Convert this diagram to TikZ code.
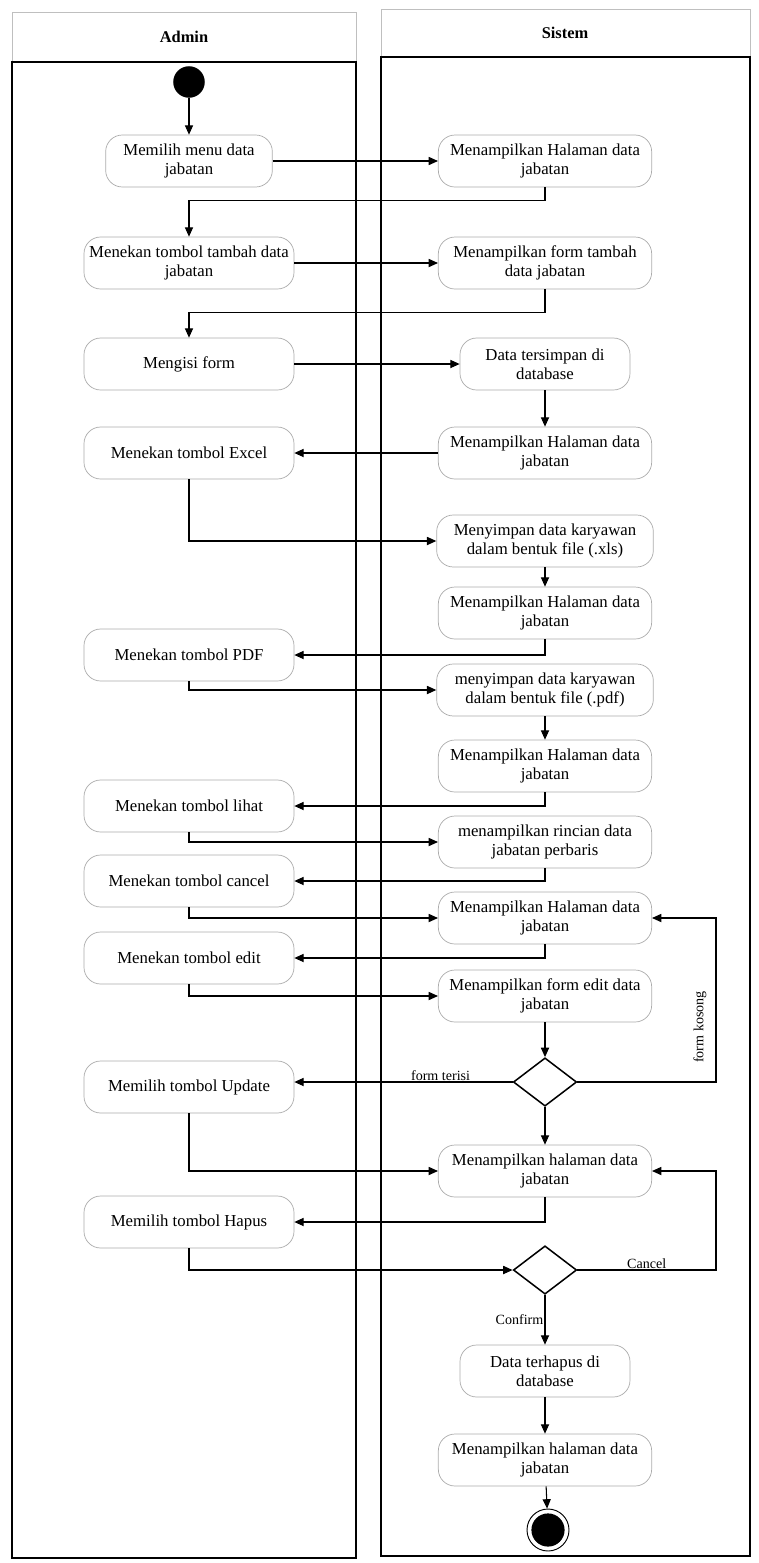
\documentclass[tikz,border=0pt]{standalone}
\usepackage{fontspec}
\setmainfont{Liberation Serif}
\usetikzlibrary{arrows.meta,shapes.geometric}

\begin{document}
\begin{tikzpicture}[x=0.03cm, y=-0.03cm,
	lane/.style = {draw = black, line width = 1.4pt},
	lanehead/.style = {draw = gray!50, line width = .5pt},
	alur/.style = {draw = black, line width = .9pt,
		-{Triangle[length = 8pt, width = 7pt]}},
	lbl/.style = {font = \fontsize{12}{14}\selectfont, inner sep = 1pt}]
\useasboundingbox (0,0) rectangle (759,1563);

% Carriles
\draw[lanehead] (12,12) rectangle (356,62);
\draw[lane] (12,62) rectangle (356,1558);
\draw[lanehead] (381,9) rectangle (750,57);
\draw[lane] (381,57) rectangle (750,1556);
\node[font = \bfseries\fontsize{14}{16}\selectfont] (hAdmin) at (184,37) {Admin};
\node[font = \bfseries\fontsize{14}{16}\selectfont] (hSistem) at (565,33) {Sistem};

% Nodos Admin
\begin{scope}[
		every node/.style = {draw = gray!65, line width = .6pt,
		rounded corners = .5cm, fill = white, align = center,
		minimum width = 6.3cm, minimum height = 1.56cm, inner sep = 2pt,
		font = \fontsize{14.3}{16.5}\selectfont}]
	\node[minimum width = 5cm] (pilihMenu) at (189,161) {Memilih menu data\\jabatan};
	\node (tambah) at (189,263) {Menekan tombol tambah data\\jabatan};
	\node (isiForm) at (189,364) {Mengisi form};
	\node (excel) at (189,453) {Menekan tombol Excel};
	\node (pdf) at (189,655) {Menekan tombol PDF};
	\node (lihat) at (189,806) {Menekan tombol lihat};
	\node (cancel) at (189,881) {Menekan tombol cancel};
	\node (edit) at (189,958) {Menekan tombol edit};
	\node (update) at (189,1087) {Memilih tombol Update};
	\node (hapus) at (189,1222) {Memilih tombol Hapus};
\end{scope}

% Nodos Sistem
\begin{scope}[
		every node/.style = {draw = gray!65, line width = .6pt,
		rounded corners = .5cm, fill = white, align = center,
		minimum width = 6.4cm, minimum height = 1.56cm, inner sep = 2pt,
		font = \fontsize{14.3}{16.5}\selectfont}]
	\node (halaman1) at (545,161) {Menampilkan Halaman data\\jabatan};
	\node (formTambah) at (545,263) {Menampilkan form tambah\\data jabatan};
	\node[minimum width = 5.1cm] (simpan) at (545,364) {Data tersimpan di\\database};
	\node (halaman2) at (545,453) {Menampilkan Halaman data\\jabatan};
	\node[minimum width = 6.5cm] (xls) at (545,541) {Menyimpan data karyawan\\dalam bentuk file (.xls)};
	\node (halaman3) at (545,613) {Menampilkan Halaman data\\jabatan};
	\node[minimum width = 6.5cm] (pdfFile) at (545,690) {menyimpan data karyawan\\dalam bentuk file (.pdf)};
	\node (halaman4) at (545,766) {Menampilkan Halaman data\\jabatan};
	\node (rincian) at (545,842) {menampilkan rincian data\\jabatan perbaris};
	\node (halaman5) at (545,918) {Menampilkan Halaman data\\jabatan};
	\node (formEdit) at (545,996) {Menampilkan form edit data\\jabatan};
	\node (halaman6) at (545,1171) {Menampilkan halaman data\\jabatan};
	\node[minimum width = 5.1cm] (terhapus) at (545,1371) {Data terhapus di\\database};
	\node (halaman7) at (545,1460) {Menampilkan halaman data\\jabatan};
\end{scope}

% Inicio, fin y decisiones
\begin{scope}[
		every node/.style = {draw = black, line width = 1.3pt, inner sep = 0pt}]
	\node[circle, fill = black, minimum size = .9cm] (mulai) at (189,82) {};
	\node[diamond, fill = white, minimum width = 1.9cm, minimum height = 1.45cm] (cekForm) at (545,1082) {};
	\node[diamond, fill = white, minimum width = 1.9cm, minimum height = 1.45cm] (konfirmasi) at (545,1270) {};
	\node[circle, line width = .8pt, minimum size = 1.26cm] (selesai) at (548,1530) {};
	\node[circle, fill = black, minimum size = .95cm] (selesaiDalam) at (selesai) {};
\end{scope}
\coordinate (k1) at (716,1082);
\coordinate (k2) at (716,1270);

% Paths
\begin{scope}[every edge/.style = {alur}]
	\path (mulai) edge (pilihMenu);
	\path (pilihMenu) edge (halaman1);
	\path (tambah) edge (formTambah);
	\path (isiForm) edge (simpan);
	\path (simpan) edge (halaman2);
	\path (halaman2) edge (excel);
	\path (xls) edge (halaman3);
	\path (pdfFile) edge (halaman4);
	\path (formEdit) edge (cekForm);
	\path (cekForm) edge (halaman6);
	\path (konfirmasi) edge node[lbl, left, pos = .5] (lConfirm) {Confirm} (terhapus);
	\path (terhapus) edge (halaman7);
	\path (halaman7) edge (selesai);
\end{scope}
\draw[alur] (halaman1.south) -- ++(0,13) -| (tambah.north);
\draw[alur] (formTambah.south) -- ++(0,23) -| (isiForm.north);
\draw[alur] (excel.south) |- (xls.west);
\draw[alur] (halaman3.south) |- (pdf.east);
\draw[alur] (pdf.south) |- (pdfFile.west);
\draw[alur] (halaman4.south) |- (lihat.east);
\draw[alur] (lihat.south) |- (rincian.west);
\draw[alur] (rincian.south) |- (cancel.east);
\draw[alur] (cancel.south) |- (halaman5.west);
\draw[alur] (halaman5.south) |- (edit.east);
\draw[alur] (edit.south) |- (formEdit.west);
\draw[alur] (cekForm.west) -- node[lbl, above, pos = .33] (lTerisi) {form terisi} (cekForm.west -| update.east);
\draw[alur] (cekForm.east) -- (k1) |- (halaman5.east);
\node[lbl, rotate = 90] (lKosong) at (700,1027) {form kosong};
\draw[alur] (update.south) |- (halaman6.west);
\draw[alur] (halaman6.south) |- (hapus.east);
\draw[alur] (hapus.south) |- (konfirmasi.west);
\draw[alur] (konfirmasi.east) -- node[lbl, above, pos = .5] (lCancel) {Cancel} (k2) |- (halaman6.east);
\end{tikzpicture}
\end{document}
